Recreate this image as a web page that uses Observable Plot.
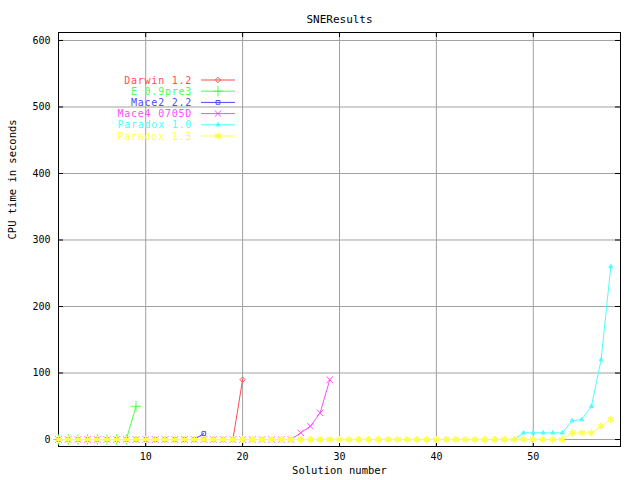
<!DOCTYPE html>
<html>
<head>
<meta charset="utf-8">
<script src="https://cdn.jsdelivr.net/npm/d3@7"></script>
<script src="https://cdn.jsdelivr.net/npm/@observablehq/plot@0.6"></script>
<style>
  html, body { margin: 0; padding: 0; background: white; }
  #wrap { position: relative; width: 640px; height: 480px; }
  #legend { position: absolute; left: 0; top: 0; pointer-events: none; }
</style>
</head>
<body>
<div id="wrap"></div>
<script>
// ---- data ----
const title = "SNEResults";
const xLabel = "Solution number";
const yLabel = "CPU time in seconds";
const xTicks = [10, 20, 30, 40, 50];
const yTicks = [0, 100, 200, 300, 400, 500, 600];

const seriesNames = ["Darwin 1.2", "E 0.9pre3", "Mace2 2.2", "Mace4 0705D", "Paradox 1.0", "Paradox 1.3"];
const seriesColors = ["#ff4c4c", "#4cff4c", "#4c4cff", "#ff4cff", "#4cffff", "#ffff4c"];
const seriesSymbols = ["diamond2", "plus", "square2", "times", "triangle2", "asterisk"];

const darwin12 = [0,0,0,0,0,0,0,0,0,0,0,0,0,0,0,0,0,0,0,90];
const e09pre3 = [0,0,0,0,0,0,0,0,50];
const mace222 = [0,0,0,0,0,0,0,0,0,0,0,0,0,0,0,9];
const mace40705D = [0,0,0,0,0,0,0,0,0,0,0,0,0,0,0,0,0,0,0,0,0,0,0,0,0,10,20,40,90];
const paradox10 = [0,0,0,0,0,0,0,0,0,0,0,0,0,0,0,0,0,0,0,0,0,0,0,0,0,0,0,0,0,0,0,0,0,0,0,0,0,0,0,0,0,0,0,0,0,0,0,0,10,10,10,10,10,28,30,50,120,260];
const paradox13 = [0,0,0,0,0,0,0,0,0,0,0,0,0,0,0,0,0,0,0,0,0,0,0,0,0,0,0,0,0,0,0,0,0,0,0,0,0,0,0,0,0,0,0,0,0,0,0,0,0,0,0,0,0,10,10,10,20,30];

const seriesValues = [darwin12, e09pre3, mace222, mace40705D, paradox10, paradox13];

// ---- layout / style ----
const W = 640, H = 480;
const mTop = 32, mBottom = 34, mLeft = 58, mRight = 20;
const frameW = W - mLeft - mRight, frameH = H - mTop - mBottom;
const tickLen = 5;
const grid = "#a0a0a0";
const font = "DejaVu Sans Mono, monospace";
const symbolR = {diamond2: 2.4, plus: 3.4, square2: 2.4, times: 3.0, triangle2: 1.9, asterisk: 3.3};
const symbolW = {diamond2: 1, plus: 1, square2: 1, times: 1, triangle2: 1, asterisk: 1.6};

const rows = seriesNames.flatMap((name, i) =>
  seriesValues[i].map((v, j) => ({series: name, idx: i, x: j + 1, y: v})));

const marks = [
  Plot.gridX(xTicks, {stroke: grid, strokeOpacity: 1}),
  Plot.gridY(yTicks, {stroke: grid, strokeOpacity: 1}),
  Plot.tickX(xTicks, {x: d => d, stroke: "black", insetTop: frameH - tickLen}),
  Plot.tickX(xTicks, {x: d => d, stroke: "black", insetBottom: frameH - tickLen}),
  Plot.tickY(yTicks, {y: d => d, stroke: "black", insetRight: frameW - tickLen}),
  Plot.tickY(yTicks, {y: d => d, stroke: "black", insetLeft: frameW - tickLen}),
  Plot.axisX(xTicks, {tickSize: 0, tickPadding: 6, label: null, fontSize: 10}),
  Plot.axisY(yTicks, {tickSize: 0, tickPadding: 8, label: null, fontSize: 10}),
  Plot.frame({stroke: "black"}),
  Plot.text([title], {frameAnchor: "top", dy: -17, fontSize: 11, fill: "black"}),
  Plot.text([xLabel], {frameAnchor: "bottom", dy: 27, fontSize: 10.5, fill: "black"}),
  Plot.text([yLabel], {frameAnchor: "left", dx: -46, rotate: -90, fontSize: 10.5, fill: "black"})
];

seriesNames.forEach((name, i) => {
  const d = rows.filter(r => r.idx === i);
  const s = seriesSymbols[i];
  marks.push(Plot.line(d, {x: "x", y: "y", stroke: seriesColors[i], strokeWidth: 1}));
  marks.push(Plot.dot(d, {
    x: "x", y: "y", r: symbolR[s],
    symbol: () => s,
    stroke: seriesColors[i],
    fill: s === "triangle2" ? seriesColors[i] : "none",
    strokeWidth: symbolW[s]
  }));
});

const chart = Plot.plot({
  width: W, height: H,
  marginTop: mTop, marginBottom: mBottom, marginLeft: mLeft, marginRight: mRight,
  x: {domain: [1, 59]},
  y: {domain: [-10.5, 612]},
  symbol: {type: "identity"},
  style: {fontFamily: font, fontSize: "10px", background: "white", color: "black"},
  marks
});
document.getElementById("wrap").appendChild(chart);

// ---- legend overlay ----
const leg = d3.select("#wrap").append("svg")
  .attr("id", "legend").attr("width", W).attr("height", H)
  .style("font-family", font).style("font-size", "10px").style("letter-spacing", "0.75px");
const symMap = {diamond2: d3.symbolDiamond2, plus: d3.symbolPlus, square2: d3.symbolSquare2,
  times: d3.symbolTimes, triangle2: d3.symbolTriangle2, asterisk: d3.symbolAsterisk};
const legY0 = 80, legStep = 11.2, legTextX = 192, legLineX1 = 201, legLineX2 = 235;
seriesNames.forEach((name, i) => {
  const y = legY0 + i * legStep;
  const s = seriesSymbols[i];
  leg.append("text").attr("x", legTextX).attr("y", y).attr("dy", "0.35em")
    .attr("text-anchor", "end").attr("fill", seriesColors[i]).text(name);
  leg.append("line").attr("x1", legLineX1).attr("x2", legLineX2).attr("y1", y).attr("y2", y)
    .attr("stroke", seriesColors[i]).attr("stroke-width", 1);
  leg.append("path").attr("transform", `translate(${(legLineX1 + legLineX2) / 2},${y})`)
    .attr("d", d3.symbol(symMap[s], Math.PI * symbolR[s] * symbolR[s])())
    .attr("stroke", seriesColors[i]).attr("stroke-width", symbolW[s])
    .attr("fill", s === "triangle2" ? seriesColors[i] : "none");
});
</script>
</body>
</html>
